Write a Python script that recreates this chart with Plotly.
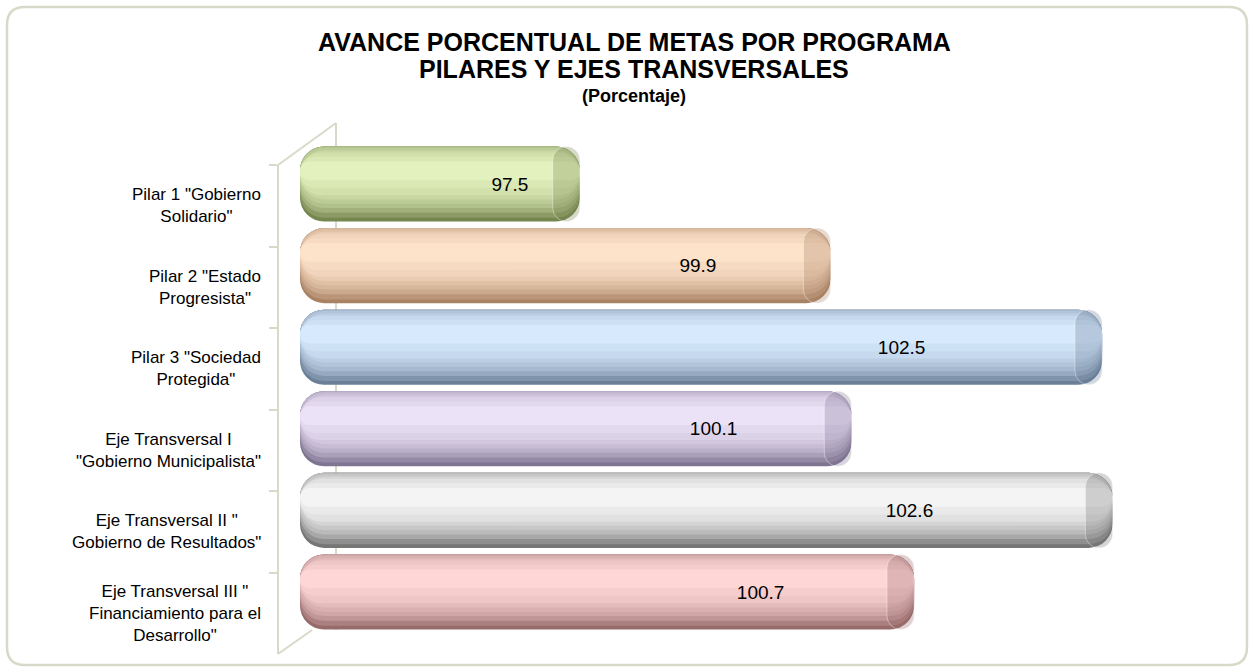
import plotly.graph_objects as go

# ---------------- data ----------------
categories = [
    'Pilar 1 "Gobierno<br>Solidario"',
    'Pilar 2 "Estado<br>Progresista"',
    'Pilar 3 "Sociedad<br>Protegida"',
    'Eje Transversal I<br>"Gobierno Municipalista"',
    'Eje Transversal II "<br>Gobierno de Resultados"',
    'Eje Transversal III "<br>Financiamiento para el<br>Desarrollo"',
]
values = [97.5, 99.9, 102.5, 100.1, 102.6, 100.7]
value_labels = ["97.5", "99.9", "102.5", "100.1", "102.6", "100.7"]

# colours: (dark bottom, light highlight) per bar
dark_colors = ["#76864f", "#a98264", "#6b7f97", "#7f7491", "#767676", "#986b6b"]
light_colors = ["#e2f1bd", "#fde3ca", "#d6e9fd", "#ece2f7", "#f4f4f4", "#fed6d6"]

# ---------------- helpers ----------------
W, H = 1254, 672
FONT = "Liberation Sans, Arial, sans-serif"
BASE = 94.82      # axis origin of the cylinders
CAP = 0.26        # visible end-face of the cylinder (axis units)
THICK = 0.92      # bar thickness (category units)

# brightness profile across the cylinder (0 = top edge, 1 = bottom edge)
PROFILE_S = [0.0, 0.08, 0.2, 0.45, 0.65, 0.85, 1.0]
PROFILE_T = [0.6, 0.85, 1.0, 1.0, 0.85, 0.5, 0.05]


def px(x):
    return x / W


def py(y):
    return 1 - y / H


def hex2rgb(h):
    h = h.lstrip("#")
    return [int(h[i:i + 2], 16) for i in (0, 2, 4)]


def blend(c1, c2, t):
    a, b = hex2rgb(c1), hex2rgb(c2)
    return "rgb(%d,%d,%d)" % tuple(round(a[i] + (b[i] - a[i]) * t) for i in range(3))


def band(level):
    """s-interval where the brightness profile is >= level."""
    n = 400
    inside = [i / n for i in range(n + 1)
              if _prof(i / n) >= level - 1e-9]
    return min(inside), max(inside)


def _prof(s):
    for i in range(len(PROFILE_S) - 1):
        s0, s1 = PROFILE_S[i], PROFILE_S[i + 1]
        if s0 <= s <= s1:
            t0, t1 = PROFILE_T[i], PROFILE_T[i + 1]
            return t0 + (t1 - t0) * (s - s0) / (s1 - s0)
    return PROFILE_T[-1]


fig = go.Figure()

levels = [0.0, 0.2, 0.4, 0.55, 0.65, 0.75, 0.85, 0.92, 1.0]
for tau in levels:
    a, b = band(tau)
    cols = [blend(d, l, tau) for d, l in zip(dark_colors, light_colors)]
    fig.add_trace(go.Bar(
        y=categories, x=[v - BASE for v in values], base=BASE,
        orientation="h", width=(b - a) * THICK, offset=-THICK / 2 + a * THICK,
        marker=dict(color=cols, line=dict(width=0), cornerradius=24),
        hoverinfo="skip", showlegend=False, yaxis="y", xaxis="x",
    ))

# darker end face of each cylinder
cap_cols = ["rgba(%d,%d,%d,0.30)" % tuple(hex2rgb(d)) for d in dark_colors]
fig.add_trace(go.Bar(
    y=categories, x=[CAP] * len(values), base=[v - CAP for v in values],
    orientation="h", width=THICK, offset=-THICK / 2,
    marker=dict(color=cap_cols, line=dict(width=1, color="rgba(255,255,255,0.4)"),
                cornerradius=24),
    hoverinfo="skip", showlegend=False, yaxis="y", xaxis="x",
))

# value labels (carried by a transparent bar on the right half)
mids = [(BASE + v) / 2 for v in values]
fig.add_trace(go.Bar(
    y=categories, x=[v - m for v, m in zip(values, mids)], base=mids,
    orientation="h", width=THICK, offset=-THICK / 2,
    marker=dict(color="rgba(0,0,0,0)", line=dict(width=0)),
    text=value_labels, textposition="inside", insidetextanchor="middle",
    textfont=dict(family=FONT, size=19, color="#000000"),
    constraintext="none", textangle=0,
    customdata=values, hovertemplate="%{customdata}<extra></extra>",
    showlegend=False, yaxis="y", xaxis="x",
))

# invisible trace carrying the front (category) axis
fig.add_trace(go.Scatter(
    y=categories, x=values, mode="markers", marker=dict(opacity=0),
    hoverinfo="skip", showlegend=False, yaxis="y2", xaxis="x",
))

# category labels (centered multi-line, right-anchored)
for c in categories:
    fig.add_annotation(
        x=px(263), xref="paper", y=c, yref="y2", text=c,
        xanchor="right", yanchor="middle", align="center", showarrow=False,
        font=dict(family=FONT, size=17, color="#000000"),
    )

# titles
fig.add_annotation(x=px(634), y=py(42), xref="paper", yref="paper",
                   text="<b>AVANCE PORCENTUAL DE METAS POR PROGRAMA</b>",
                   showarrow=False, xanchor="center", yanchor="middle",
                   font=dict(family=FONT, size=25, color="#000000"))
fig.add_annotation(x=px(634), y=py(69), xref="paper", yref="paper",
                   text="<b>PILARES Y EJES TRANSVERSALES</b>",
                   showarrow=False, xanchor="center", yanchor="middle",
                   font=dict(family=FONT, size=25, color="#000000"))
fig.add_annotation(x=px(634), y=py(96), xref="paper", yref="paper",
                   text="<b>(Porcentaje)</b>",
                   showarrow=False, xanchor="center", yanchor="middle",
                   font=dict(family=FONT, size=18, color="#000000"))

GRID = "#d9d9c9"
shapes = []
# outer rounded frame
x0, y0, x1, y1, r = 7, 7, 1247, 665, 18
path = (
    f"M {px(x0 + r)},{py(y0)} L {px(x1 - r)},{py(y0)} "
    f"Q {px(x1)},{py(y0)} {px(x1)},{py(y0 + r)} "
    f"L {px(x1)},{py(y1 - r)} Q {px(x1)},{py(y1)} {px(x1 - r)},{py(y1)} "
    f"L {px(x0 + r)},{py(y1)} Q {px(x0)},{py(y1)} {px(x0)},{py(y1 - r)} "
    f"L {px(x0)},{py(y0 + r)} Q {px(x0)},{py(y0)} {px(x0 + r)},{py(y0)} Z"
)
shapes.append(dict(type="path", path=path, xref="paper", yref="paper",
                   line=dict(color=GRID, width=2.5), layer="below"))
# 3D wall: back vertical line and connecting diagonals
shapes.append(dict(type="line", xref="paper", yref="paper",
                   x0=px(336), y0=py(123), x1=px(336), y1=py(630),
                   line=dict(color=GRID, width=2), layer="below"))
shapes.append(dict(type="line", xref="paper", yref="paper",
                   x0=px(278), y0=py(165), x1=px(336), y1=py(123),
                   line=dict(color=GRID, width=2), layer="below"))
shapes.append(dict(type="line", xref="paper", yref="paper",
                   x0=px(278), y0=py(654), x1=px(312), y1=py(630),
                   line=dict(color=GRID, width=2), layer="below"))

fig.update_layout(
    width=W, height=H,
    margin=dict(l=0, r=0, t=0, b=0),
    paper_bgcolor="#ffffff", plot_bgcolor="rgba(0,0,0,0)",
    barmode="overlay",
    showlegend=False,
    shapes=shapes,
    xaxis=dict(domain=[px(300), px(1240)], range=[BASE, 103.82],
               visible=False, fixedrange=True),
    yaxis=dict(domain=[py(632.8), py(143.2)], type="category",
               categoryorder="array", categoryarray=categories,
               range=[5.5, -0.5], visible=False, fixedrange=True),
    yaxis2=dict(domain=[py(654), py(165)], type="category",
                categoryorder="array", categoryarray=categories,
                range=[5.5, -0.5], anchor="free", position=px(278),
                side="left", showticklabels=False, showgrid=False,
                showline=True, linecolor=GRID, linewidth=2,
                ticks="outside", tickson="boundaries", ticklen=8,
                tickcolor=GRID, tickwidth=2, fixedrange=True, zeroline=False),
    font=dict(family=FONT, color="#000000"),
)

fig.write_html("out.html", config={"displayModeBar": False},
               post_script="document.body.style.margin='0';document.body.style.overflow='hidden';")
